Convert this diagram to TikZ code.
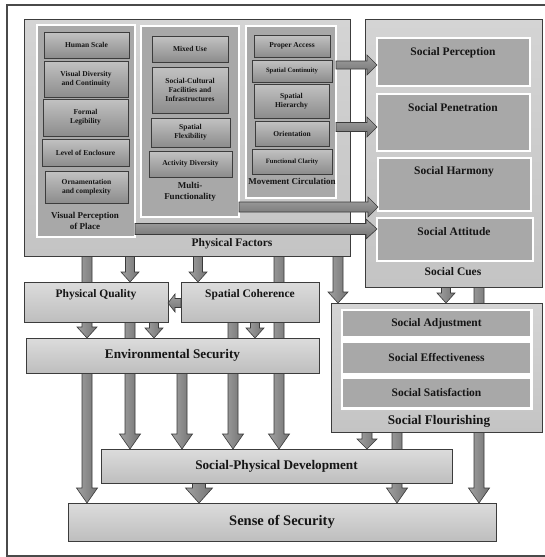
\documentclass[tikz,border=0pt]{standalone}
\usepackage{fontspec}
\setmainfont{Liberation Serif}
\usetikzlibrary{calc}
\pgfdeclarelayer{back}
\pgfdeclarelayer{bg}
\pgfsetlayers{back,bg,main}
\definecolor{edge}{HTML}{3C3C3C}
\definecolor{bigT}{HTML}{D4D4D4}
\definecolor{bigB}{HTML}{C4C4C4}
\definecolor{panelc}{HTML}{A8A8A8}
\definecolor{sT}{HTML}{C2C2C2}
\definecolor{sB}{HTML}{8C8C8C}
\definecolor{mT}{HTML}{DCDCDC}
\definecolor{mB}{HTML}{BEBEBE}
\definecolor{aL}{HTML}{A2A2A2}
\definecolor{aR}{HTML}{727272}
\definecolor{aedge}{HTML}{3A3A3A}
\definecolor{txt}{HTML}{151515}
\definecolor{frame}{HTML}{4A4A4A}

\newcommand{\bx}[6]{\node[#1, minimum width={(#4-#2)*1pt}, minimum height={(#5-#3)*1pt}] (#6) at ({(#2+#4)/2},{(#3+#5)/2})}
% vertical down arrow: x, from, to, barhalf, headhalf, headlen
\newcommand{\vArrow}[6]{\path let \p1=(#2), \p2=(#3) in [varr] (#1pt-#4pt,\y1) -- (#1pt+#4pt,\y1) -- (#1pt+#4pt,\y2+#6pt) -- (#1pt+#5pt,\y2+#6pt) -- (#1pt,\y2) -- (#1pt-#5pt,\y2+#6pt) -- (#1pt-#4pt,\y2+#6pt) -- cycle;}
% horizontal right arrow: y, from, to, barhalf, headhalf, headlen
\newcommand{\rArrow}[6]{\path let \p1=(#2), \p2=(#3) in [harr] (\x1,-#1pt+#4pt) -- (\x2-#6pt,-#1pt+#4pt) -- (\x2-#6pt,-#1pt+#5pt) -- (\x2,-#1pt) -- (\x2-#6pt,-#1pt-#5pt) -- (\x2-#6pt,-#1pt-#4pt) -- (\x1,-#1pt-#4pt) -- cycle;}
% horizontal left arrow
\newcommand{\lArrow}[6]{\path let \p1=(#2), \p2=(#3) in [harr] (\x1,-#1pt+#4pt) -- (\x2+#6pt,-#1pt+#4pt) -- (\x2+#6pt,-#1pt+#5pt) -- (\x2,-#1pt) -- (\x2+#6pt,-#1pt-#5pt) -- (\x2+#6pt,-#1pt-#4pt) -- (\x1,-#1pt-#4pt) -- cycle;}

\begin{document}
\begin{tikzpicture}[x=1pt,y=-1pt,
  big/.style={draw=edge, line width=0.8pt, top color=bigT, bottom color=bigB, inner sep=0pt, outer sep=0pt},
  panel/.style={draw=white, line width=2.6pt, fill=panelc, inner sep=0pt, outer sep=0pt},
  sbox/.style={draw=edge, line width=0.9pt, top color=sT, bottom color=sB, inner sep=0pt, outer sep=0pt, align=center, text=txt, font=\fontsize{7.5}{8.8}\selectfont\bfseries},
  tinybox/.style={sbox, font=\fontsize{6.6}{8}\selectfont\bfseries},
  mbox/.style={draw=edge, line width=0.8pt, top color=mT, bottom color=mB, inner sep=0pt, outer sep=0pt, align=center, text=txt},
  flat/.style={fill=panelc, draw=none, inner sep=0pt, outer sep=0pt, align=center, text=txt, font=\fontsize{11.5}{13}\selectfont\bfseries},
  wframe/.style={fill=white, draw=white, line width=1pt, inner sep=0pt, outer sep=0pt},
  ttl/.style={inner sep=0pt, align=center, text=txt, font=\fontsize{9}{11}\selectfont\bfseries},
  mid/.style={inner sep=0pt, align=center, text=txt, font=\fontsize{11.5}{13}\selectfont\bfseries},
  large/.style={font=\fontsize{13.2}{15}\selectfont\bfseries},
  varr/.style={draw=aedge, line width=0.6pt, left color=aL, right color=aR},
  harr/.style={draw=aedge, line width=0.6pt, top color=aL, bottom color=aR}]

\useasboundingbox (0,0) rectangle (545,557);
\begin{pgfonlayer}{back}
  \fill[white] (0,0) rectangle (545,557);
\end{pgfonlayer}
\draw[frame, line width=1.6pt] (546,5) -- (7,5) -- (7,556) -- (546,556);

% ---------- Physical Factors ----------
\bx{big}{24}{19}{350}{256}{pf} {};
\node[mid] (pfL) at (232,244) {Physical Factors};

\bx{panel}{37}{25}{135}{237}{vpp} {};
\bx{sbox}{44}{32}{129}{58}{hs} {Human Scale};
\bx{sbox}{44}{61}{128}{97}{vdc} {Visual Diversity\\and Continuity};
\bx{sbox}{43}{99}{128}{136}{fl} {Formal\\Legibility};
\bx{sbox}{42}{139}{129}{166}{loe} {Level of Enclosure};
\bx{sbox}{45}{171}{128}{203}{oc} {Ornamentation\\and complexity};
\node[ttl] (vppL) at (85,220.5) {Visual Perception\\of Place};

\bx{panel}{141}{26}{239}{217}{mf} {};
\bx{sbox}{152}{36}{228}{62}{mu} {Mixed Use};
\bx{sbox}{152}{67}{228}{113}{scf} {Social-Cultural\\Facilities and\\Infrastructures};
\bx{sbox}{151}{118}{230}{147}{sfx} {Spatial\\Flexibility};
\bx{sbox}{149}{151}{232}{177}{ad} {Activity Diversity};
\node[ttl] (mfL) at (190,191.5) {Multi-\\Functionality};

\bx{panel}{246}{26}{336}{198}{mc} {};
\bx{sbox}{254}{35}{330}{57}{pa} {Proper Access};
\bx{tinybox}{252}{60}{332}{82}{scn} {Spatial Continuity};
\bx{sbox}{254}{84}{329}{118}{sh} {Spatial\\Hierarchy};
\bx{sbox}{255}{121}{329}{146}{ori} {Orientation};
\bx{tinybox}{252}{149}{332}{174}{fc} {Functional Clarity};
\node[ttl] (mcL) at (292,181.5) {Movement Circulation};

% ---------- Social Cues ----------
\bx{big}{365}{19}{542}{287}{cues} {};
\node[mid] (cuesL) at (453,272) {Social Cues};
\bx{panel}{377}{38}{530}{86}{sp} {};
\node[mid] (spL) at (453,53) {Social Perception};
\bx{panel}{377}{94}{530}{151}{spen} {};
\node[mid] (spenL) at (453,108) {Social Penetration};
\bx{panel}{378}{158}{531}{211}{sharm} {};
\node[mid] (sharmL) at (454,172) {Social Harmony};
\bx{panel}{377}{218}{533}{261}{satt} {};
\node[mid] (sattL) at (454,232) {Social Attitude};

% horizontal arrows into Social Cues
\rArrow{65}{mc.east}{sp.west}{4}{10}{10}
\rArrow{127}{mc.east}{spen.west}{4.5}{10}{10}
\rArrow{207}{mf.east}{sharm.west}{5}{10}{10}
\rArrow{229}{vpp.east}{satt.west}{5.5}{10}{11}

% ---------- middle ----------
\bx{mbox}{24}{282}{168}{322}{pq} {};
\node[mid] (pqL) at (96,295) {Physical Quality};
\bx{mbox}{181}{282}{319}{322}{coh} {};
\node[mid] (cohL) at (250,295) {Spatial Coherence};
\lArrow{303}{coh.west}{pq.east}{4.5}{9}{7}

\bx{mbox, large}{26}{338}{319}{373}{es} {Environmental Security};

% ---------- Social Flourishing ----------
\bx{big}{331}{303}{542}{432}{sflo} {};
\bx{wframe}{341}{309}{532}{409}{sfw} {};
\bx{flat}{343}{311}{530}{336}{sadj} {Social Adjustment};
\bx{flat}{343}{343}{530}{373}{seff} {Social Effectiveness};
\bx{flat}{343}{379}{530}{407}{ssat} {Social Satisfaction};
\node[mid, large] (sfloL) at (439,421) {Social Flourishing};

% ---------- bottom ----------
\bx{mbox, large}{101}{449}{452}{483}{spd} {Social-Physical Development};
\bx{mbox, font=\fontsize{14.5}{16}\selectfont\bfseries}{68}{503}{496}{541}{sos} {Sense of Security};

% ---------- vertical arrows (behind boxes) ----------
\begin{pgfonlayer}{bg}
  \vArrow{87}{pf.south}{es.north}{5}{10}{11}
  \vArrow{130}{pf.south}{pq.north}{4.5}{9}{10}
  \vArrow{198}{pf.south}{coh.north}{4.5}{9}{10}
  \vArrow{279}{pf.south}{spd.north}{5}{10.5}{15}
  \vArrow{338}{pf.south}{sflo.north}{5}{10}{11}
  \vArrow{130}{pq.south}{spd.north}{5}{10.5}{15}
  \vArrow{154}{pq.south}{es.north}{4.5}{9}{10}
  \vArrow{233}{coh.south}{spd.north}{5}{10.5}{15}
  \vArrow{255}{coh.south}{es.north}{4.5}{9}{10}
  \vArrow{87}{es.south}{sos.north}{5}{10.5}{15}
  \vArrow{182}{es.south}{spd.north}{5}{10.5}{15}
  \vArrow{446}{cues.south}{sflo.north}{4.5}{9}{10}
  \vArrow{479}{cues.south}{sos.north}{5}{10.5}{15}
  \vArrow{367}{sflo.south}{spd.north}{5}{10}{10}
  \vArrow{397}{sflo.south}{sos.north}{5}{10.5}{15}
  \vArrow{199}{spd.south}{sos.north}{6.5}{13.5}{15}
\end{pgfonlayer}
\end{tikzpicture}
\end{document}
